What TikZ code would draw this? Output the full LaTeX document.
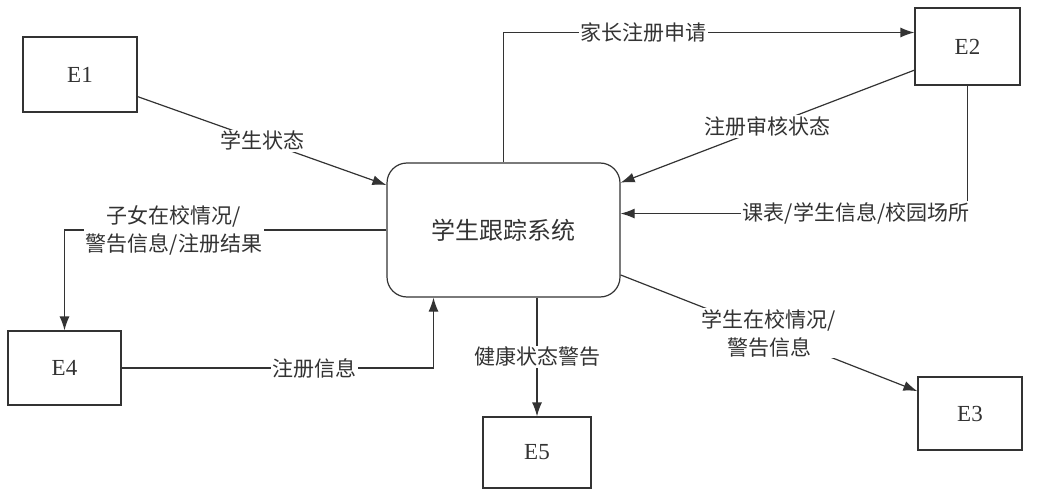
\documentclass[tikz,border=0pt]{standalone}
\usepackage{fontspec}
\setmainfont{Liberation Serif}
\newfontfamily\cjk{Noto Sans CJK SC}
\usetikzlibrary{positioning}
\usetikzlibrary{arrows.meta}

\definecolor{ink}{HTML}{333333}
\tikzset{
  ent/.style={draw=ink, line width=1.2pt, inner sep=0pt, text=ink, font=\fontsize{23}{25}\selectfont},
  proc/.style={draw=ink, line width=1.2pt, rounded corners=20pt, minimum width=233pt, minimum height=134pt, text=ink, font=\cjk\fontsize{24}{26}\selectfont},
  flow/.style={draw=ink, line width=1.2pt, -{Latex[length=14pt,width=10pt]}},
  lbl/.style={fill=white, text=ink, inner sep=1.5pt, align=center, font=\cjk\fontsize{21}{28}\selectfont},
}

\begin{document}
\begin{tikzpicture}[x=1pt, y=-1pt, on grid]
		\useasboundingbox (0,0) rectangle (1040,492);
		
		\node[proc] (sys) at (503.5,230) {学生跟踪系统};
		
		\node[ent, minimum width=114pt, minimum height=75pt, above left = 155.5pt and 423.5pt of sys] (E1) {E1};
		\node[ent, minimum width=105pt, minimum height=77pt, above right = 183.5pt and 464pt of sys] (E2) {E2};
		\node[ent, minimum width=104pt, minimum height=73pt, below right = 183.5pt and 466.5pt of sys] (E3) {E3};
		\node[ent, minimum width=113pt, minimum height=74pt, below left = 138pt and 439pt of sys] (E4) {E4};
		\node[ent, minimum width=108pt, minimum height=71pt, below right = 222.5pt and 33.5pt of sys] (E5) {E5};
		
		\draw[flow] (E1.-21) -- node[lbl] {学生状态} (sys.159);
		\draw[flow] (sys.north) |- node[lbl, pos=.67] {家长注册申请} ([yshift=14pt]E2.west);
		\draw[flow] (E2.204) -- node[lbl] {注册审核状态} (sys.22);
		\draw[flow] (E2.south) |- node[lbl, pos=.5, anchor=east, xshift=4pt] {课表/学生信息/校园场所} (sys.8);
		\draw[flow] (sys.west) -| node[lbl, pos=.33] {子女在校情况/\\警告信息/注册结果} (E4.north);
		\draw[flow] (E4.east) -| node[lbl, pos=.31] {注册信息} ([xshift=-70pt]sys.south);
		\draw[flow] (E5.north |- sys.south) -- node[lbl] {健康状态警告} (E5.north);
		\draw[flow] (sys.-21) -- node[lbl] {学生在校情况/\\警告信息} (E3.157);
	\end{tikzpicture}
\end{document}
